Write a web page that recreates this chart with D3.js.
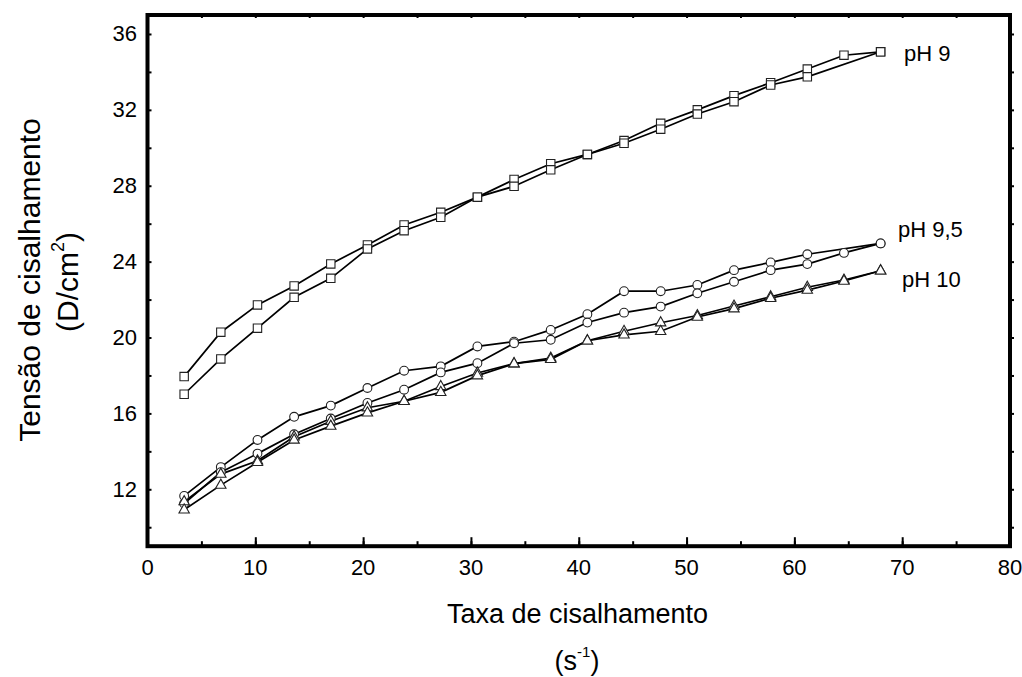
<!DOCTYPE html>
<html>
<head>
<meta charset="utf-8">
<script src="https://cdn.jsdelivr.net/npm/d3@7"></script>
<style>
  body { margin: 0; background: #fff; }
  text { font-family: "Liberation Sans", Arial, sans-serif; font-weight: 400; fill: #000; }
</style>
</head>
<body>
<div id="chart"></div>
<script>
var shearRate = [3.4, 6.8, 10.2, 13.6, 17, 20.4, 23.8, 27.2, 30.6, 34, 37.4, 40.8, 44.2, 47.6, 51, 54.4, 57.8, 61.2, 64.6, 68]

// each pH has an up curve and a down curve, null = no point at that rate
var ph9Up = [17.94, 20.28, 21.72, 22.72, 23.88, 24.88, 25.93, 26.60, 27.40, 28.33, 29.16, 29.65, 30.38, 31.29, 32.00, 32.75, 33.43, 34.15, 34.88, 35.06]
var ph9Down = [17.01, 18.87, 20.49, 22.12, 23.12, 24.67, 25.63, 26.34, 27.40, 27.97, 28.84, 29.65, 30.24, 30.98, 31.78, 32.43, 33.31, 33.74, null, 35.06]
var ph95Up = [11.65, 13.17, 14.60, 15.82, 16.41, 17.34, 18.25, 18.48, 19.53, 19.78, 20.40, 21.23, 22.44, 22.44, 22.77, 23.55, 23.96, 24.39, null, 24.96]
var ph95Down = [11.25, 12.90, 13.88, 14.90, 15.73, 16.55, 17.25, 18.16, 18.65, 19.70, 19.88, 20.79, 21.31, 21.63, 22.33, 22.94, 23.55, 23.87, 24.46, 24.96]
var ph10Up = [11.35, 12.80, 13.50, 14.77, 15.59, 16.30, 16.64, 17.42, 18.13, 18.62, 18.92, 19.83, 20.33, 20.78, 21.16, 21.66, 22.15, 22.65, 23.03, 23.52]
var ph10Down = [10.92, 12.22, 13.42, 14.60, 15.33, 16.03, 16.64, 17.11, 17.99, 18.62, 18.85, 19.83, 20.14, 20.33, 21.08, 21.52, 22.07, 22.50, 22.98, 23.52]

var xTicks = [0, 10, 20, 30, 40, 50, 60, 70, 80]
var yTicks = [12, 16, 20, 24, 28, 32, 36]

var series = [
  { values: ph9Up, marker: 'square' },
  { values: ph9Down, marker: 'square' },
  { values: ph95Up, marker: 'circle' },
  { values: ph95Down, marker: 'circle' },
  { values: ph10Up, marker: 'triangle' },
  { values: ph10Down, marker: 'triangle' }
]

var labels = [
  { text: 'pH 9', x: 904, y: 61 },
  { text: 'pH 9,5', x: 898, y: 237 },
  { text: 'pH 10', x: 902, y: 287 }
]

var width = 1022,
    height = 677

var svg = d3.select('#chart').append('svg')
  .attr('width', width)
  .attr('height', height)

var x = d3.scaleLinear().domain([0, 80]).range([147.5, 1010])
var y = d3.scaleLinear().domain([9, 37]).range([546.2, 15])

function plainText(g, tx, ty, str, size, anchor) {
  return g.append('text')
    .attr('x', tx)
    .attr('y', ty)
    .attr('font-size', size)
    .attr('text-anchor', anchor || 'start')
    .text(str)
}

// ticks, inside of the frame on bottom/left, small outward ticks on the right
svg.append('g').attr('transform', 'translate(0,' + y(9) + ')')
  .call(d3.axisBottom(x).tickValues(d3.range(0, 81, 5)).tickSize(-5).tickFormat(''))
svg.append('g').attr('transform', 'translate(0,' + y(9) + ')')
  .call(d3.axisBottom(x).tickValues(xTicks).tickSize(-9).tickFormat(''))
svg.append('g').attr('transform', 'translate(' + x(0) + ',0)')
  .call(d3.axisLeft(y).tickValues(d3.range(10, 37, 2)).tickSize(-4).tickFormat(''))
svg.append('g').attr('transform', 'translate(' + x(80) + ',0)')
  .call(d3.axisRight(y).tickValues(d3.range(10, 37, 2)).tickSize(4).tickFormat(''))
svg.append('g').attr('transform', 'translate(0,' + y(37) + ')')
  .call(d3.axisBottom(x).tickValues(d3.range(5, 80, 5)).tickSize(3).tickFormat(''))

svg.selectAll('.domain').remove()
svg.selectAll('.tick line').attr('stroke', '#000').attr('stroke-width', 2)

svg.append('rect')
  .attr('x', x(0))
  .attr('y', y(37))
  .attr('width', x(80) - x(0))
  .attr('height', y(9) - y(37))
  .attr('fill', 'none')
  .attr('stroke', '#000')
  .attr('stroke-width', 4)

var tickLabels = svg.append('g')
xTicks.forEach(function(t) {
  plainText(tickLabels, x(t), 575, t, 22, 'middle')
})
yTicks.forEach(function(t) {
  plainText(tickLabels, 137, y(t) + 7.5, t, 22, 'end')
})

// lines
var line = d3.line()
  .x(function(d) { return x(d.x) })
  .y(function(d) { return y(d.v) })

function points(s) {
  return shearRate
    .map(function(r, i) { return { x: r, v: s.values[i] } })
    .filter(function(p) { return p.v != null })
}

svg.append('g').selectAll('path')
  .data(series)
  .enter().append('path')
    .attr('d', function(s) { return line(points(s)) })
    .attr('fill', 'none')
    .attr('stroke', '#000')
    .attr('stroke-width', 1.7)

var markerPath = {
  square: 'M-4.2,-4.2H4.2V4.2H-4.2Z',
  circle: d3.symbol().type(d3.symbolCircle).size(Math.PI * 4.4 * 4.4)(),
  triangle: 'M0,-6L5.2,3.2H-5.2Z'
}

series.forEach(function(s) {
  svg.append('g').selectAll('path')
    .data(points(s))
    .enter().append('path')
      .attr('d', markerPath[s.marker])
      .attr('transform', function(p) { return 'translate(' + x(p.x) + ',' + y(p.v) + ')' })
      .attr('fill', '#fff')
      .attr('stroke', '#222')
      .attr('stroke-width', 1.1)
})

var phLabels = svg.append('g')
labels.forEach(function(l) {
  plainText(phLabels, l.x, l.y, l.text, 22)
})

// axis titles
plainText(svg, 577.5, 623, 'Taxa de cisalhamento', 27, 'middle')

var unitX = svg.append('text')
  .attr('x', 577)
  .attr('y', 670)
  .attr('font-size', 27)
  .attr('text-anchor', 'middle')
unitX.append('tspan').text('(s')
unitX.append('tspan').attr('font-size', 15).attr('dy', -13).text('-1')
unitX.append('tspan').attr('dy', 13).text(')')

svg.append('text')
  .attr('transform', 'translate(40,280) rotate(-90)')
  .attr('font-size', 30)
  .attr('text-anchor', 'middle')
  .text('Tensão de cisalhamento')

var unitY = svg.append('text')
  .attr('transform', 'translate(78,282) rotate(-90)')
  .attr('font-size', 30)
  .attr('text-anchor', 'middle')
unitY.append('tspan').text('(D/cm')
unitY.append('tspan').attr('font-size', 18).attr('dy', -14).text('2')
unitY.append('tspan').attr('dy', 14).text(')')
</script>
</body>
</html>
